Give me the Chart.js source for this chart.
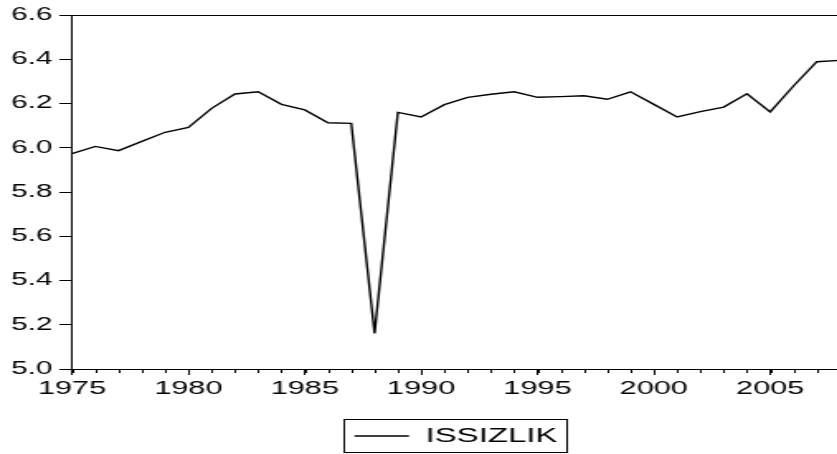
<!DOCTYPE html>
<html>
<head>
<meta charset="utf-8">
<title>ISSIZLIK</title>
<script src="https://cdn.jsdelivr.net/npm/chart.js@4/dist/chart.umd.min.js"></script>
<style>
  html, body { margin: 0; padding: 0; background: #fff; overflow: hidden; }
</style>
</head>
<body>
<!-- drawn narrow and stretched sideways, like the wide lettering of the original -->
<canvas id="issizlikChart" width="510" height="456" style="display:block;width:842px;height:456px"></canvas>
<script>
const years = [1975, 1976, 1977, 1978, 1979, 1980, 1981, 1982, 1983, 1984,
  1985, 1986, 1987, 1988, 1989, 1990, 1991, 1992, 1993, 1994,
  1995, 1996, 1997, 1998, 1999, 2000, 2001, 2002, 2003, 2004,
  2005, 2006, 2007, 2008];
const issizlik = [5.973, 6.006, 5.987, 6.029, 6.070, 6.092, 6.178, 6.243, 6.253, 6.196,
  6.171, 6.113, 6.110, 5.161, 6.160, 6.139, 6.195, 6.228, 6.242, 6.253,
  6.228, 6.231, 6.235, 6.219, 6.253, 6.196, 6.139, 6.163, 6.184, 6.244,
  6.162, 6.279, 6.389, 6.395];
const xTickYears = [1975, 1980, 1985, 1990, 1995, 2000, 2005];
const xTickLabels = ['1975', '1980', '1985', '1990', '1995', '2000', '2005'];
const yTicks = [5.0, 5.2, 5.4, 5.6, 5.8, 6.0, 6.2, 6.4, 6.6];
const yTickLabels = ['5.0', '5.2', '5.4', '5.6', '5.8', '6.0', '6.2', '6.4', '6.6'];

// short ticks for every year under the x axis
const minorTicks = {
  id: 'minorTicks',
  afterDraw: function(chart) {
    const ctx = chart.ctx;
    const x = chart.scales.x;
    const bottom = chart.chartArea.bottom;
    ctx.save();
    ctx.strokeStyle = '#000';
    ctx.lineWidth = 1;
    years.forEach(function(year) {
      const px = Math.round(x.getPixelForValue(year)) + 0.5;
      ctx.beginPath();
      ctx.moveTo(px, bottom);
      ctx.lineTo(px, bottom + 4);
      ctx.stroke();
    });
    ctx.restore();
  }
};

// frame round the legend entry
const legendFrame = {
  id: 'legendFrame',
  afterDraw: function(chart) {
    const box = chart.legend.legendHitBoxes[0];
    if (!box) return;
    const ctx = chart.ctx;
    ctx.save();
    ctx.strokeStyle = '#000';
    ctx.lineWidth = 1;
    ctx.strokeRect(Math.round(box.left - 7) + 0.5, Math.round(box.top - 7) + 0.5,
      Math.round(box.width + 12), Math.round(box.height + 13));
    ctx.restore();
  }
};

document.addEventListener("DOMContentLoaded", function() {
  Chart.defaults.font.family = "'Liberation Sans', Arial, sans-serif";
  Chart.defaults.color = '#000';

  const ctx = document.getElementById('issizlikChart').getContext('2d');
  new Chart(ctx, {
    type: 'line',
    data: {
      datasets: [{
        label: 'ISSIZLIK',
        data: years.map(function(year, i) { return {x: year, y: issizlik[i]}; }),
        borderColor: '#000',
        backgroundColor: '#000',
        borderWidth: 1.4,
        pointRadius: 0,
        tension: 0,
        fill: false
      }]
    },
    options: {
      responsive: false,
      animation: false,
      devicePixelRatio: 1,
      layout: { padding: { top: 15, right: 1.2, bottom: 0, left: 0 } },
      scales: {
        x: {
          type: 'linear',
          min: 1975,
          max: 2008,
          afterBuildTicks: function(scale) {
            scale.ticks = xTickYears.map(function(v) { return {value: v}; });
          },
          afterFit: function(scale) { scale.height = 49; },
          ticks: {
            autoSkip: false,
            minRotation: 0,
            maxRotation: 0,
            padding: 3,
            font: { size: 18.6 },
            callback: function(value, index) { return xTickLabels[index]; }
          },
          grid: {
            drawOnChartArea: false,
            tickLength: 6,
            tickColor: '#000',
            tickWidth: 1
          },
          border: { color: '#000', width: 1 }
        },
        y: {
          min: 5.0,
          max: 6.6,
          afterBuildTicks: function(scale) {
            scale.ticks = yTicks.map(function(v) { return {value: v}; });
          },
          afterFit: function(scale) { scale.width = 43.6; },
          ticks: {
            padding: 4.2,
            font: { size: 18 },
            callback: function(value, index) { return yTickLabels[index]; }
          },
          grid: {
            color: function(c) { return c.index === yTicks.length - 1 ? '#000' : 'rgba(0,0,0,0)'; },
            lineWidth: 1,
            tickLength: 7.7,
            tickColor: '#000',
            tickWidth: 1
          },
          border: { color: '#000', width: 1 }
        }
      },
      plugins: {
        legend: {
          display: true,
          position: 'bottom',
          fullSize: false,
          labels: {
            usePointStyle: true,
            pointStyle: 'line',
            pointStyleWidth: 33,
            padding: 8,
            color: '#000',
            font: { size: 20 }
          }
        },
        tooltip: { enabled: false }
      }
    },
    plugins: [minorTicks, legendFrame]
  });
});
</script>
</body>
</html>
